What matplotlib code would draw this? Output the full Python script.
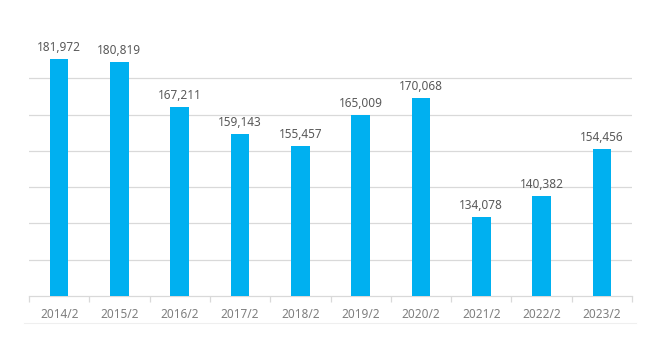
import matplotlib
matplotlib.use("Agg")
import matplotlib.pyplot as plt
from matplotlib.lines import Line2D

plt.rcParams['font.family'] = ['Noto Sans', 'DejaVu Sans']

jahre = ["2014/2", "2015/2", "2016/2", "2017/2", "2018/2",
         "2019/2", "2020/2", "2021/2", "2022/2", "2023/2"]
werte = [181972, 180819, 167211, 159143, 155457,
         165009, 170068, 134078, 140382, 154456]

fig = plt.figure(figsize=(6.6, 3.6), dpi=100)
# axes: x 29..632 px, y baseline 296 px, top at 42 px (value 187000)
ax = fig.add_axes([29/660, 1 - 296/360, 603/660, 254/360])

x = list(range(len(jahre)))
ax.bar(x, werte, width=0.31, color="#00B0F0", zorder=3)

ax.set_ylim(110000, 187000)
ax.set_xlim(-0.5, len(jahre) - 0.5)
for g in range(121000, 180000, 11000):
    ax.axhline(g, color="#d9d9d9", lw=0.9, zorder=1)

for xi, v in zip(x, werte):
    ax.text(xi, v + 1500, f"{v:,}", ha="center", va="bottom",
            fontsize=8.5, color="#595959")

ax.set_xticks(x)
ax.set_xticklabels(jahre, fontsize=8.5, color="#7f7f7f")
ax.tick_params(axis="x", length=0, pad=9)
# small ticks at category boundaries
ax.set_xticks([i - 0.5 for i in range(len(jahre) + 1)], minor=True)
ax.tick_params(axis="x", which="minor", length=4, color="#d9d9d9", width=0.9)
ax.set_yticks([])

for s in ["top", "right", "left"]:
    ax.spines[s].set_visible(False)
ax.spines["bottom"].set_color("#d9d9d9")
ax.spines["bottom"].set_linewidth(0.9)

# faint border line below the labels
fig.add_artist(Line2D([24/660, 636/660], [1 - 323/360, 1 - 323/360],
                      color="#efefef", lw=0.8))

fig.savefig("out.png", dpi=100)
